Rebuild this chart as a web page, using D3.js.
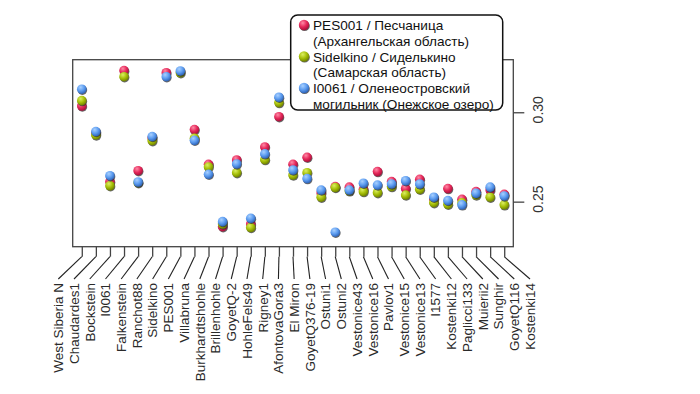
<!DOCTYPE html>
<html>
<head>
<meta charset="utf-8">
<script src="https://cdn.jsdelivr.net/npm/d3@7.9.0/dist/d3.min.js"></script>
<style>
  html, body { margin: 0; padding: 0; background: #fff; }
  svg { display: block; font-family: "Liberation Sans", Arial, sans-serif; }
</style>
</head>
<body>
<svg id="chart" width="700" height="394"></svg>
<script>
// ---------- Data ----------
const samples = [
  'West Siberia N', 'Chaudardes1', 'Bockstein', 'I0061', 'Falkenstein', 'Ranchot88',
  'Sidelkino', 'PES001', 'Villabruna', 'Burkhardtshohle', 'Brillenhohle', 'GoyetQ-2',
  'HohleFels49', 'Rigney1', 'AfontovaGora3', 'El Miron', 'GoyetQ376-19', 'Ostuni1',
  'Ostuni2', 'Vestonice43', 'Vestonice16', 'Pavlov1', 'Vestonice15', 'Vestonice13',
  'I1577', 'Kostenki12', 'Paglicci133', 'Muierii2', 'Sunghir', 'GoyetQ116', 'Kostenki14'
];

// null = the sample compared with itself
const pes001 = [0.3035, 0.2884, 0.2612, 0.3233, 0.2673, 0.2856, 0.3221, null, 0.2903, 0.2709,
  0.2360, 0.2733, 0.2375, 0.2806, 0.2975, 0.2709, 0.2748, 0.2549, 0.2584, 0.2581, 0.2569,
  0.2668, 0.2612, 0.2573, 0.2625, 0.2515, 0.2573, 0.2513, 0.2556, 0.2565, 0.2541];
const sidelkino = [0.3065, 0.2873, 0.2589, 0.3199, 0.2606, 0.2841, null, 0.3221, 0.2855, 0.2694,
  0.2375, 0.2662, 0.2355, 0.2735, 0.3054, 0.2649, 0.2662, 0.2525, 0.2579, 0.2560, 0.2556,
  0.2550, 0.2584, 0.2537, 0.2569, 0.2494, 0.2485, 0.2493, 0.2537, 0.2525, 0.2482];
const i0061 = [0.3129, 0.2892, 0.2645, null, 0.2610, 0.2864, 0.3199, 0.3231, 0.2843, 0.2653,
  0.2388, 0.2711, 0.2407, 0.2767, 0.3084, 0.2677, 0.2629, 0.2565, 0.2329, 0.2565, 0.2603,
  0.2593, 0.2599, 0.2617, 0.2599, 0.2525, 0.2506, 0.2482, 0.2547, 0.2581, 0.2532];

const yTicks = [0.25, 0.30];

const series = [
  { key: 'pes', values: pes001, color: '#e5285a', light: '#ff8aa6', dark: '#a8103a',
    label: ['PES001 / Песчаница', '(Архангельская область)'] },
  { key: 'sid', values: sidelkino, color: '#a6bf08', light: '#dcef62', dark: '#6f8200',
    label: ['Sidelkino / Сиделькино', '(Самарская область)'] },
  { key: 'oln', values: i0061, color: '#5c9cf0', light: '#a8d0ff', dark: '#2f64b8',
    label: ['I0061 / Оленеостровский', 'могильник (Онежское озеро)'] }
];

// ---------- Layout ----------
const plot = { left: 72.7, right: 513.3, top: 59.7, bottom: 246.7 };
const svg = d3.select('#chart');

const x = d3.scalePoint().domain(samples).range([plot.left, plot.right]).padding(0.645);
const xLab = d3.scalePoint().domain(samples).range([58.3, 530]);
const y = d3.scaleLinear().domain([0.2248, 0.3294]).range([plot.bottom, plot.top]);

// gradients for the glossy dots
const defs = svg.append('defs');
series.forEach((s) => {
  const g = defs.append('radialGradient').attr('id', 'g-' + s.key)
    .attr('cx', '38%').attr('cy', '30%').attr('r', '70%');
  g.append('stop').attr('offset', '0%').attr('stop-color', s.light);
  g.append('stop').attr('offset', '55%').attr('stop-color', s.color);
  g.append('stop').attr('offset', '100%').attr('stop-color', s.dark);
});

// frame
svg.append('rect')
  .attr('x', plot.left).attr('y', plot.top)
  .attr('width', plot.right - plot.left).attr('height', plot.bottom - plot.top)
  .attr('fill', 'none').attr('stroke', '#444').attr('stroke-width', 1.3);

// right axis, labels parallel to it
const yAxis = svg.append('g')
  .attr('transform', `translate(${plot.right},0)`)
  .call(d3.axisRight(y).tickValues(yTicks).tickSize(11).tickFormat(d3.format('.2f')));
yAxis.select('.domain').remove();
yAxis.selectAll('line').attr('stroke', '#444').attr('stroke-width', 1.3);
yAxis.selectAll('text')
  .attr('x', null).attr('dy', null)
  .attr('transform', 'translate(30,-3) rotate(-90)')
  .attr('text-anchor', 'middle')
  .attr('font-size', 14).attr('fill', '#333');

// bottom ticks + leader lines to the fanned labels
const xAxis = svg.append('g')
  .attr('transform', `translate(0,${plot.bottom})`)
  .call(d3.axisBottom(x).tickSize(10).tickFormat(''));
xAxis.select('.domain').remove();
xAxis.selectAll('line').attr('stroke', '#444').attr('stroke-width', 1.3);

svg.append('g').selectAll('line')
  .data(samples)
  .join('line')
  .attr('x1', (d) => x(d)).attr('y1', plot.bottom + 10)
  .attr('x2', (d) => xLab(d)).attr('y2', 279)
  .attr('stroke', '#222').attr('stroke-width', 1.1);

svg.append('g').selectAll('text')
  .data(samples)
  .join('text')
  .attr('transform', (d) => `translate(${xLab(d) + 4.8},283) rotate(-90)`)
  .attr('text-anchor', 'end')
  .attr('font-size', 13.5)
  .attr('fill', '#2a2a2a')
  .text((d) => d);

// dots: red first, then green, then blue on top
const r = 4.8;
series.forEach((s) => {
  const pts = samples.map((name, i) => ({ name, v: s.values[i] })).filter((d) => d.v != null);
  const g = svg.append('g');
  g.selectAll('circle.sh')
    .data(pts)
    .join('circle')
    .attr('class', 'sh')
    .attr('cx', (d) => x(d.name) + 0.6).attr('cy', (d) => y(d.v) + 0.9)
    .attr('r', r).attr('fill', '#333').attr('opacity', 0.75);
  g.selectAll('circle.pt')
    .data(pts)
    .join('circle')
    .attr('class', 'pt')
    .attr('cx', (d) => x(d.name)).attr('cy', (d) => y(d.v))
    .attr('r', r).attr('fill', `url(#g-${s.key})`);
});

// ---------- Legend ----------
const leg = svg.append('g');
leg.append('rect')
  .attr('x', 290.7).attr('y', 15).attr('width', 212).attr('height', 95)
  .attr('rx', 7).attr('fill', '#fff').attr('stroke', '#111').attr('stroke-width', 1.5);

series.forEach((s, i) => {
  const cy = 25 + i * 31.5;
  leg.append('circle').attr('cx', 304.6).attr('cy', cy + 0.9).attr('r', 5.2)
    .attr('fill', '#333').attr('opacity', 0.75);
  leg.append('circle').attr('cx', 304).attr('cy', cy).attr('r', 5.2)
    .attr('fill', `url(#g-${s.key})`);
  s.label.forEach((t, j) => {
    leg.append('text')
      .attr('x', 313).attr('y', cy + j * 15.5 + 5)
      .attr('font-size', 13.6).attr('fill', '#111')
      .text(t);
  });
});
</script>
</body>
</html>
